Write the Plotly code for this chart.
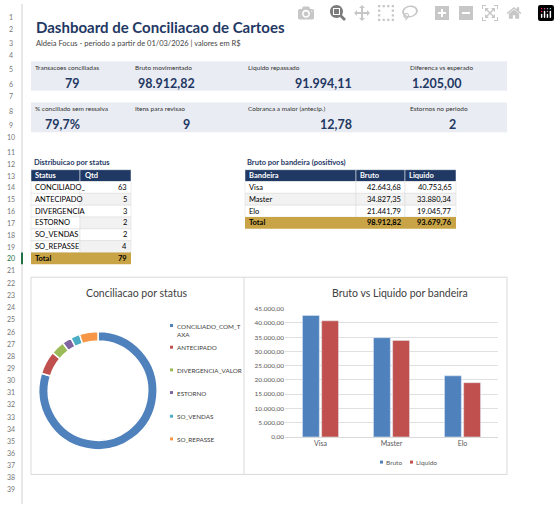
import plotly.graph_objects as go

W, H = 560, 507
NAVY = "#1F3864"
GOLD = "#C9A447"
FONT = "Lato"

kpi_labels_1 = ["Transacoes conciliadas", "Bruto movimentado", "Liquido repassado", "Diferenca vs esperado"]
kpi_values_1 = ["79", "98.912,82", "91.994,11", "1.205,00"]
kpi_labels_2 = ["% conciliado sem ressalva", "Itens para revisao", "Cobranca a maior (antecip.)", "Estornos no periodo"]
kpi_values_2 = ["79,7%", "9", "12,78", "2"]

status = ["CONCILIADO_COM_TAXA", "ANTECIPADO", "DIVERGENCIA_VALOR", "ESTORNO", "SO_VENDAS", "SO_REPASSE"]
status_short = ["CONCILIADO_", "ANTECIPADO", "DIVERGENCIA", "ESTORNO", "SO_VENDAS", "SO_REPASSE"]
qtd = [63, 5, 3, 2, 2, 4]

bandeiras = ["Visa", "Master", "Elo"]
series_names = ["Bruto", "Liquido"]
bruto = [42643.68, 34827.35, 21441.79]
liquido = [40753.65, 33880.34, 19045.77]
total_bruto = 98912.82
total_liquido = 93679.76

pie_colors = ["#4F81BD", "#C0504D", "#9BBB59", "#8064A2", "#4BACC6", "#F79646"]

def fmt(v):
    s = f"{v:,.2f}"
    return s.replace(",", "X").replace(".", ",").replace("X", ".")

def px(x): return x / W
def py(y): return 1 - y / H

shapes, ann = [], []

def rect(x0, y0, x1, y1, fill, line=None, lw=0):
    shapes.append(dict(type="rect", xref="paper", yref="paper", x0=px(x0), x1=px(x1), y0=py(y1), y1=py(y0),
                       fillcolor=fill, line=dict(color=line or fill, width=lw), layer="below"))

def txt(x, y, s, size=8, color="#000", bold=False, anchor="left"):
    ann.append(dict(xref="paper", yref="paper", x=px(x), y=py(y), text=f"<b>{s}</b>" if bold else s,
                    showarrow=False, xanchor=anchor, yanchor="middle",
                    font=dict(family=FONT, size=size, color=color)))

# row header
row_y = [13, 25, 40, 52, 66, 81, 93, 108, 123, 135, 150, 162, 174, 186, 198, 210, 222, 234, 246, 258, 270]
while len(row_y) < 39:
    row_y.append(row_y[-1] + 12.3 if len(row_y) > 21 else 283)
for i, yy in enumerate(row_y):
    txt(11, yy, str(i + 1), size=7, color="#217346" if i == 19 else "#777", anchor="center")
shapes.append(dict(type="line", xref="paper", yref="paper", x0=px(22), x1=px(22), y0=0, y1=1, line=dict(color="#D0D0D0", width=1)))
shapes.append(dict(type="line", xref="paper", yref="paper", x0=px(22), x1=px(22), y0=py(264), y1=py(252), line=dict(color="#217346", width=2)))

txt(34, 23, "Dashboard de Conciliacao de Cartoes", size=15, color=NAVY, bold=True)
txt(34, 40, "Aldeia Focus - periodo a partir de 01/03/2026 | valores em R$", size=7.5, color="#444")

# KPI bands
rect(31, 58, 507, 88, "#E9ECF2")
rect(31, 100, 507, 130, "#E9ECF2")
lab_x = [33, 133, 246, 408]
val_pos_1 = [(72, "center"), (166, "center"), (354, "right"), (410, "left")]
val_pos_2 = [(62, "center"), (192, "right"), (354, "right"), (452, "center")]
for i in range(4):
    txt(lab_x[i], 64, kpi_labels_1[i], size=6.5, color="#333")
    txt(val_pos_1[i][0], 81, kpi_values_1[i], size=12.5, color=NAVY, bold=True, anchor=val_pos_1[i][1])
    txt(lab_x[i], 106, kpi_labels_2[i], size=6.5, color="#333")
    txt(val_pos_2[i][0], 122, kpi_values_2[i], size=12.5, color=NAVY, bold=True, anchor=val_pos_2[i][1])

# Status table
txt(32, 161, "Distribuicao por status", size=7.5, color=NAVY, bold=True)
rt = 168
rh = 12
rect(31, rt, 80, rt + rh, NAVY, "white", 0.5); rect(80, rt, 131, rt + rh, NAVY, "white", 0.5)
txt(33, rt + 6, "Status", 7.5, "white", True); txt(83, rt + 6, "Qtd", 7.5, "white", True)
for i, (s, q) in enumerate(zip(status_short, qtd)):
    y0 = rt + rh * (i + 1)
    rect(31, y0, 80, y0 + rh, "white", "#D9D9D9", 0.5)
    rect(80, y0, 131, y0 + rh, "#F2F2F2" if i % 2 else "white", "#D9D9D9", 0.5)
    txt(33, y0 + 6, s, 7.5, "#000")
    txt(129, y0 + 6, str(q), 7.5, "#000", anchor="right")
y0 = rt + rh * 7
rect(31, y0, 131, y0 + rh, GOLD)
txt(33, y0 + 6, "Total", 7.5, "#000", True); txt(129, y0 + 6, str(sum(qtd)), 7.5, "#000", True, "right")

# Bandeira table
txt(245, 161, "Bruto por bandeira (positivos)", size=7.5, color=NAVY, bold=True)
cols = [(245, 356), (356, 405), (405, 456)]
for (a, b), h in zip(cols, ["Bandeira", "Bruto", "Liquido"]):
    rect(a, rt, b, rt + rh, NAVY, "white", 0.5)
    txt(a + 2, rt + 6, h, 7.5, "white", True)
for i in range(3):
    y0 = rt + rh * (i + 1)
    for (a, b) in cols:
        rect(a, y0, b, y0 + rh, "#F2F2F2" if i % 2 else "white", "#D9D9D9", 0.5)
    txt(247, y0 + 6, bandeiras[i], 7.5)
    txt(403, y0 + 6, fmt(bruto[i]), 7.5, anchor="right")
    txt(454, y0 + 6, fmt(liquido[i]), 7.5, anchor="right")
y0 = rt + rh * 4
rect(245, y0, 456, y0 + rh, GOLD)
txt(247, y0 + 6, "Total", 7.5, "#000", True)
txt(403, y0 + 6, fmt(total_bruto), 7.5, "#000", True, "right")
txt(454, y0 + 6, fmt(total_liquido), 7.5, "#000", True, "right")

# Chart box
rect(31, 277, 507, 477, "white", "#D9D9D9", 1)
shapes.append(dict(type="line", xref="paper", yref="paper", x0=px(244), x1=px(244), y0=py(477), y1=py(277), line=dict(color="#D9D9D9", width=1)))
txt(137, 293, "Conciliacao por status", 10.5, "#404040", anchor="center")
txt(400, 293, "Bruto vs Liquido por bandeira", 10.5, "#404040", anchor="center")

# pie legend
leg_y = [326, 348, 371, 394, 418, 441]
for i, s in enumerate(status):
    lab = "CONCILIADO_COM_T<br>AXA" if s == "CONCILIADO_COM_TAXA" else s
    rect(170, leg_y[i] - 1.5, 173, leg_y[i] + 1.5, pie_colors[i])
    ann.append(dict(xref="paper", yref="paper", x=px(175), y=py(leg_y[i] - 5), text=lab, showarrow=False,
                    xanchor="left", yanchor="top", align="left", font=dict(family=FONT, size=6.3, color="#404040")))

# bar legend
bar_colors = ["#4F81BD", "#C0504D"]
for i, (nm, xx) in enumerate(zip(series_names, [380, 410])):
    rect(xx, 463, xx + 3, 466, bar_colors[i])
    txt(xx + 4, 464.5, nm, 6.5, "#595959")

fig = go.Figure()
fig.add_trace(go.Pie(labels=status, values=qtd, hole=0.84, sort=False, direction="clockwise",
                     marker=dict(colors=pie_colors, line=dict(color="white", width=1.5)),
                     textinfo="none", showlegend=False,
                     domain=dict(x=[px(38), px(158)], y=[py(452), py(332)])))
fig.add_trace(go.Bar(name=series_names[0], x=bandeiras, y=bruto, marker_color=bar_colors[0], showlegend=False))
fig.add_trace(go.Bar(name=series_names[1], x=bandeiras, y=liquido, marker_color=bar_colors[1], showlegend=False))

fig.update_layout(
    width=W, height=H, margin=dict(l=0, r=0, t=0, b=0), paper_bgcolor="white", plot_bgcolor="white",
    separators=",.", shapes=shapes, annotations=ann, barmode="group", bargap=0.46, bargroupgap=0.12,
    font=dict(family=FONT), showlegend=False,
    xaxis=dict(domain=[px(285), px(498)], anchor="y", showline=True, linecolor="#D9D9D9",
               tickfont=dict(size=7, color="#595959"), ticks=""),
    yaxis=dict(domain=[py(439), py(309)], range=[0, 45000], dtick=5000, tickformat=",.2f",
               gridcolor="#E0E0E0", tickfont=dict(size=6.5, color="#595959"), zeroline=False),
)
fig.write_html("out.html", post_script="document.body.style.margin='0';document.body.style.overflow='hidden';")
